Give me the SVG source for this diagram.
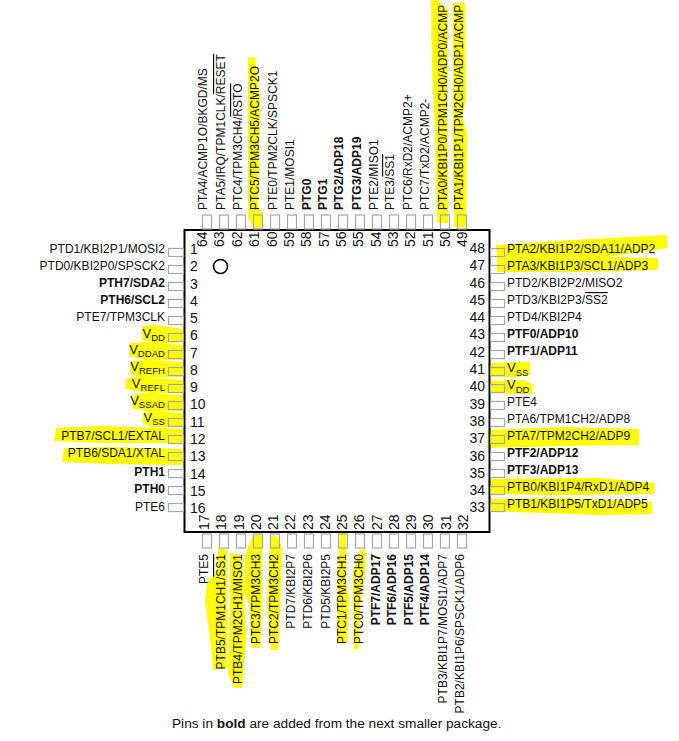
<svg xmlns="http://www.w3.org/2000/svg" width="679" height="741" viewBox="0 0 679 741">
<style>
text{font-family:"Liberation Sans",Arial,sans-serif;font-size:12px;fill:#111}
.b{font-weight:700}
.n{font-size:14px}
.e{text-anchor:end}
.d{font-size:13px}
.s{font-size:9.6px}
.c{font-size:13.67px}
.o{text-decoration:overline}
.box{fill:none;stroke:#a6a6a6;stroke-width:1.2}
.hl{fill:#ffff00;stroke:none}
.pkg{fill:none;stroke:#000;stroke-width:2}
</style>
<rect width="679" height="741" fill="#fff"/>
<g id="highlights">
<path class="hl" d="M248 58L255 57L260 100L258 207L262 213L262 227L253 228L248 217Z"/>
<path class="hl" d="M431 0L437 0L448 10L447 110L448 220L449 223L437 223L435 133L432 67Z"/>
<path class="hl" d="M453 3L465 3L466 100L462 117L467 133L466 227L454 227L453 133Z"/>
<path class="hl" d="M142 326L155 325L183 329L183 342L160 343L142 340Z"/>
<path class="hl" d="M130 343L150 342L183 345L183 360L145 360L129 356Z"/>
<path class="hl" d="M131 361L150 360L183 362L183 377L140 378L130 373Z"/>
<path class="hl" d="M126 378L140 377L183 380L183 393L150 393L125 389Z"/>
<path class="hl" d="M134 394L150 393L183 395L183 411L150 412L132 408Z"/>
<path class="hl" d="M143 413L160 412L183 413L183 427L150 427L142 423Z"/>
<path class="hl" d="M56 428L100 426L183 429L183 443L100 443L54 441Z"/>
<path class="hl" d="M64 448L110 447L183 449L183 465L110 464L62 462Z"/>
<path class="hl" d="M496 245L573 240L667 235L667 248L607 257L497 258Z"/>
<path class="hl" d="M497 258L600 257L658 258L658 270L580 272L497 272Z"/>
<path class="hl" d="M488 363L530 362L530 375L515 377L488 377Z"/>
<path class="hl" d="M490 381L525 380L533 385L532 394L490 393Z"/>
<path class="hl" d="M488 430L560 427L639 429L639 445L560 446L487 448Z"/>
<path class="hl" d="M488 479L600 478L655 483L654 494L560 495L488 494Z"/>
<path class="hl" d="M490 499L560 498L652 502L652 514L600 515L490 511Z"/>
<path class="hl" d="M218 548L227 550L227 668L213 670L210 638L205 602L207 582L217 572Z"/>
<path class="hl" d="M230 553L242 555L246 638L242 688L235 688L228 675L230 605Z"/>
<path class="hl" d="M253 535L262 535L262 600L260 648L252 648L249 605L244 592L245 555Z"/>
<path class="hl" d="M270 535L278 537L282 548L280 605L278 650L271 650L267 605Z"/>
<path class="hl" d="M340 533L346 533L346 582L349 598L347 643L337 643L338 572Z"/>
<path class="hl" d="M360 550L365 549L365 572L360 605L359 648L354 650L353 572Z"/>
</g>
<g id="connectors"></g>
<g id="package">
<rect class="pkg" x="184.5" y="230" width="305" height="302"/>
<circle cx="220.500" cy="266.500" r="7" fill="none" stroke="#000" stroke-width="1.600"/>
</g>
<g id="pin1"><rect class="box" x="168.500" y="248.500" width="15" height="8"/><text class="n" x="190" y="254">1</text><text class="e" x="165" y="253">PTD1/KBI2P1/MOSI2</text></g>
<g id="pin2"><rect class="box" x="168.500" y="265.500" width="15" height="8"/><text class="n" x="190" y="271">2</text><text class="e" x="165" y="270">PTD0/KBI2P0/SPSCK2</text></g>
<g id="pin3"><rect class="box" x="168.500" y="282.500" width="15" height="8"/><text class="n" x="190" y="289">3</text><text class="e b" x="165" y="287">PTH7/SDA2</text></g>
<g id="pin4"><rect class="box" x="168.500" y="299.500" width="15" height="8"/><text class="n" x="190" y="306">4</text><text class="e b" x="165" y="304">PTH6/SCL2</text></g>
<g id="pin5"><rect class="box" x="168.500" y="316.500" width="15" height="8"/><text class="n" x="190" y="323">5</text><text class="e" x="165" y="321">PTE7/TPM3CLK</text></g>
<g id="pin6"><rect class="box" x="168.500" y="333.500" width="15" height="8"/><text class="n" x="190" y="340">6</text><text class="e" x="165" y="337.500"><tspan class="d">V</tspan><tspan class="s" dy="3">DD</tspan></text></g>
<g id="pin7"><rect class="box" x="168.500" y="350.500" width="15" height="8"/><text class="n" x="190" y="358">7</text><text class="e" x="165" y="354"><tspan class="d">V</tspan><tspan class="s" dy="3">DDAD</tspan></text></g>
<g id="pin8"><rect class="box" x="168.500" y="367.500" width="15" height="8"/><text class="n" x="190" y="375">8</text><text class="e" x="165" y="371"><tspan class="d">V</tspan><tspan class="s" dy="3">REFH</tspan></text></g>
<g id="pin9"><rect class="box" x="168.500" y="384.500" width="15" height="8"/><text class="n" x="190" y="392">9</text><text class="e" x="165" y="388"><tspan class="d">V</tspan><tspan class="s" dy="3">REFL</tspan></text></g>
<g id="pin10"><rect class="box" x="168.500" y="401.500" width="15" height="8"/><text class="n" x="190" y="409">10</text><text class="e" x="165" y="404.500"><tspan class="d">V</tspan><tspan class="s" dy="3">SSAD</tspan></text></g>
<g id="pin11"><rect class="box" x="168.500" y="418.500" width="15" height="8"/><text class="n" x="190" y="427">11</text><text class="e" x="165" y="422"><tspan class="d">V</tspan><tspan class="s" dy="3">SS</tspan></text></g>
<g id="pin12"><rect class="box" x="168.500" y="435.500" width="15" height="8"/><text class="n" x="190" y="444">12</text><text class="e" x="165" y="440">PTB7/SCL1/EXTAL</text></g>
<g id="pin13"><rect class="box" x="168.500" y="452.500" width="15" height="8"/><text class="n" x="190" y="461">13</text><text class="e" x="165" y="457">PTB6/SDA1/XTAL</text></g>
<g id="pin14"><rect class="box" x="168.500" y="469.500" width="15" height="8"/><text class="n" x="190" y="479">14</text><text class="e b" x="165" y="476">PTH1</text></g>
<g id="pin15"><rect class="box" x="168.500" y="486.500" width="15" height="8"/><text class="n" x="190" y="496">15</text><text class="e b" x="165" y="493">PTH0</text></g>
<g id="pin16"><rect class="box" x="168.500" y="503.500" width="15" height="8"/><text class="n" x="190" y="513">16</text><text class="e" x="165" y="510.500">PTE6</text></g>
<g id="pin17"><rect class="box" x="202.500" y="534" width="9" height="14"/><text class="n" transform="translate(209 530) rotate(-90)">17</text><text class="e" transform="translate(208 554) rotate(-90)">PTE5</text></g>
<g id="pin18"><rect class="box" x="219.500" y="534" width="9" height="14"/><text class="n" transform="translate(226 530) rotate(-90)">18</text><text class="e" transform="translate(225 554) rotate(-90)">PTB5/TPM1CH1/<tspan class="o">SS1</tspan></text></g>
<g id="pin19"><rect class="box" x="236.500" y="534" width="9" height="14"/><text class="n" transform="translate(244 530) rotate(-90)">19</text><text class="e" transform="translate(242 554) rotate(-90)">PTB4/TPM2CH1/MISO1</text></g>
<g id="pin20"><rect class="box" x="253.500" y="534" width="9" height="14"/><text class="n" transform="translate(261 530) rotate(-90)">20</text><text class="e" transform="translate(260 554) rotate(-90)">PTC3/TPM3CH3</text></g>
<g id="pin21"><rect class="box" x="270.500" y="534" width="9" height="14"/><text class="n" transform="translate(278 530) rotate(-90)">21</text><text class="e" transform="translate(278 554) rotate(-90)">PTC2/TPM3CH2</text></g>
<g id="pin22"><rect class="box" x="287.500" y="534" width="9" height="14"/><text class="n" transform="translate(295 530) rotate(-90)">22</text><text class="e" transform="translate(295 554) rotate(-90)">PTD7/KBI2P7</text></g>
<g id="pin23"><rect class="box" x="304.500" y="534" width="9" height="14"/><text class="n" transform="translate(313 530) rotate(-90)">23</text><text class="e" transform="translate(312 554) rotate(-90)">PTD6/KBI2P6</text></g>
<g id="pin24"><rect class="box" x="321.500" y="534" width="9" height="14"/><text class="n" transform="translate(330 530) rotate(-90)">24</text><text class="e" transform="translate(330 554) rotate(-90)">PTD5/KBI2P5</text></g>
<g id="pin25"><rect class="box" x="338.500" y="534" width="9" height="14"/><text class="n" transform="translate(347 530) rotate(-90)">25</text><text class="e" transform="translate(346 554) rotate(-90)">PTC1/TPM3CH1</text></g>
<g id="pin26"><rect class="box" x="355.500" y="534" width="9" height="14"/><text class="n" transform="translate(364 530) rotate(-90)">26</text><text class="e" transform="translate(363 554) rotate(-90)">PTC0/TPM3CH0</text></g>
<g id="pin27"><rect class="box" x="372.500" y="534" width="9" height="14"/><text class="n" transform="translate(382 530) rotate(-90)">27</text><text class="e b" transform="translate(380 554) rotate(-90)">PTF7/ADP17</text></g>
<g id="pin28"><rect class="box" x="389.500" y="534" width="9" height="14"/><text class="n" transform="translate(399 530) rotate(-90)">28</text><text class="e b" transform="translate(396 554) rotate(-90)">PTF6/ADP16</text></g>
<g id="pin29"><rect class="box" x="406.500" y="534" width="9" height="14"/><text class="n" transform="translate(416 530) rotate(-90)">29</text><text class="e b" transform="translate(413 554) rotate(-90)">PTF5/ADP15</text></g>
<g id="pin30"><rect class="box" x="423.500" y="534" width="9" height="14"/><text class="n" transform="translate(433 530) rotate(-90)">30</text><text class="e b" transform="translate(429 554) rotate(-90)">PTF4/ADP14</text></g>
<g id="pin31"><rect class="box" x="440.500" y="534" width="9" height="14"/><text class="n" transform="translate(451 530) rotate(-90)">31</text><text class="e" transform="translate(447 554) rotate(-90)">PTB3/KBI1P7/MOSI1/ADP7</text></g>
<g id="pin32"><rect class="box" x="457.500" y="534" width="9" height="14"/><text class="n" transform="translate(468 530) rotate(-90)">32</text><text class="e" transform="translate(464 554) rotate(-90)">PTB2/KBI1P6/SPSCK1/ADP6</text></g>
<g id="pin33"><rect class="box" x="490.500" y="503.500" width="14" height="8"/><text class="n e" x="485" y="512">33</text><text x="507" y="508">PTB1/KBI1P5/TxD1/ADP5</text></g>
<g id="pin34"><rect class="box" x="490.500" y="486.500" width="14" height="8"/><text class="n e" x="485" y="495">34</text><text x="507" y="491">PTB0/KBI1P4/RxD1/ADP4</text></g>
<g id="pin35"><rect class="box" x="490.500" y="469.500" width="14" height="8"/><text class="n e" x="485" y="478">35</text><text class="b" x="507" y="474">PTF3/ADP13</text></g>
<g id="pin36"><rect class="box" x="490.500" y="452.500" width="14" height="8"/><text class="n e" x="485" y="461">36</text><text class="b" x="507" y="457">PTF2/ADP12</text></g>
<g id="pin37"><rect class="box" x="490.500" y="435.500" width="14" height="8"/><text class="n e" x="485" y="443">37</text><text x="507" y="440">PTA7/TPM2CH2/ADP9</text></g>
<g id="pin38"><rect class="box" x="490.500" y="418.500" width="14" height="8"/><text class="n e" x="485" y="426">38</text><text x="507" y="423">PTA6/TPM1CH2/ADP8</text></g>
<g id="pin39"><rect class="box" x="490.500" y="401.500" width="14" height="8"/><text class="n e" x="485" y="409">39</text><text x="507" y="406">PTE4</text></g>
<g id="pin40"><rect class="box" x="490.500" y="384.500" width="14" height="8"/><text class="n e" x="485" y="391">40</text><text x="507" y="389"><tspan class="d">V</tspan><tspan class="s" dy="3.500">DD</tspan></text></g>
<g id="pin41"><rect class="box" x="490.500" y="367.500" width="14" height="8"/><text class="n e" x="485" y="374">41</text><text x="507" y="372"><tspan class="d">V</tspan><tspan class="s" dy="3.500">SS</tspan></text></g>
<g id="pin42"><rect class="box" x="490.500" y="350.500" width="14" height="8"/><text class="n e" x="485" y="357">42</text><text class="b" x="507" y="355">PTF1/ADP11</text></g>
<g id="pin43"><rect class="box" x="490.500" y="333.500" width="14" height="8"/><text class="n e" x="485" y="339">43</text><text class="b" x="507" y="338">PTF0/ADP10</text></g>
<g id="pin44"><rect class="box" x="490.500" y="316.500" width="14" height="8"/><text class="n e" x="485" y="322">44</text><text x="507" y="321">PTD4/KBI2P4</text></g>
<g id="pin45"><rect class="box" x="490.500" y="299.500" width="14" height="8"/><text class="n e" x="485" y="305">45</text><text x="507" y="304">PTD3/KBI2P3/<tspan class="o">SS2</tspan></text></g>
<g id="pin46"><rect class="box" x="490.500" y="282.500" width="14" height="8"/><text class="n e" x="485" y="288">46</text><text x="507" y="287">PTD2/KBI2P2/MISO2</text></g>
<g id="pin47"><rect class="box" x="490.500" y="265.500" width="14" height="8"/><text class="n e" x="485" y="270">47</text><text x="507" y="270">PTA3/KBI1P3/SCL1/ADP3</text></g>
<g id="pin48"><rect class="box" x="490.500" y="248.500" width="14" height="8"/><text class="n e" x="485" y="253">48</text><text x="507" y="253">PTA2/KBI1P2/SDA11/ADP2</text></g>
<g id="pin49"><rect class="box" x="457.500" y="215" width="9" height="14"/><text class="n" transform="translate(467 247) rotate(-90)">49</text><text transform="translate(463 210) rotate(-90)">PTA1/KBI1P1/TPM2CH0/ADP1/ACMP</text></g>
<g id="pin50"><rect class="box" x="440.500" y="215" width="9" height="14"/><text class="n" transform="translate(450 247) rotate(-90)">50</text><text transform="translate(447 210) rotate(-90)">PTA0/KBI1P0/TPM1CH0/ADP0/ACMP</text></g>
<g id="pin51"><rect class="box" x="423.500" y="215" width="9" height="14"/><text class="n" transform="translate(433 247) rotate(-90)">51</text><text transform="translate(429 210) rotate(-90)">PTC7/TxD2/ACMP2-</text></g>
<g id="pin52"><rect class="box" x="406.500" y="215" width="9" height="14"/><text class="n" transform="translate(415 247) rotate(-90)">52</text><text transform="translate(412 210) rotate(-90)">PTC6/RxD2/ACMP2+</text></g>
<g id="pin53"><rect class="box" x="389.500" y="215" width="9" height="14"/><text class="n" transform="translate(398 247) rotate(-90)">53</text><text transform="translate(394 210) rotate(-90)">PTE3/<tspan class="o">SS1</tspan></text></g>
<g id="pin54"><rect class="box" x="372.500" y="215" width="9" height="14"/><text class="n" transform="translate(381 247) rotate(-90)">54</text><text transform="translate(378 210) rotate(-90)">PTE2/MISO1</text></g>
<g id="pin55"><rect class="box" x="355.500" y="215" width="9" height="14"/><text class="n" transform="translate(363 247) rotate(-90)">55</text><text class="b" transform="translate(361 210) rotate(-90)">PTG3/ADP19</text></g>
<g id="pin56"><rect class="box" x="338.500" y="215" width="9" height="14"/><text class="n" transform="translate(346 247) rotate(-90)">56</text><text class="b" transform="translate(343 210) rotate(-90)">PTG2/ADP18</text></g>
<g id="pin57"><rect class="box" x="321.500" y="215" width="9" height="14"/><text class="n" transform="translate(329 247) rotate(-90)">57</text><text class="b" transform="translate(327 210) rotate(-90)">PTG1</text></g>
<g id="pin58"><rect class="box" x="304.500" y="215" width="9" height="14"/><text class="n" transform="translate(311 247) rotate(-90)">58</text><text class="b" transform="translate(311 210) rotate(-90)">PTG0</text></g>
<g id="pin59"><rect class="box" x="287.500" y="215" width="9" height="14"/><text class="n" transform="translate(294 247) rotate(-90)">59</text><text transform="translate(294 210) rotate(-90)">PTE1/MOSI1</text></g>
<g id="pin60"><rect class="box" x="270.500" y="215" width="9" height="14"/><text class="n" transform="translate(277 247) rotate(-90)">60</text><text transform="translate(277 210) rotate(-90)">PTE0/TPM2CLK/SPSCK1</text></g>
<g id="pin61"><rect class="box" x="253.500" y="215" width="9" height="14"/><text class="n" transform="translate(259 247) rotate(-90)">61</text><text transform="translate(259 210) rotate(-90)">PTC5/TPM3CH5/ACMP2O</text></g>
<g id="pin62"><rect class="box" x="236.500" y="215" width="9" height="14"/><text class="n" transform="translate(242 247) rotate(-90)">62</text><text transform="translate(242 210) rotate(-90)">PTC4/TPM3CH4/<tspan class="o">RSTO</tspan></text></g>
<g id="pin63"><rect class="box" x="219.500" y="215" width="9" height="14"/><text class="n" transform="translate(224 247) rotate(-90)">63</text><text transform="translate(225 210) rotate(-90)">PTA5/IRQ/TPM1CLK/<tspan class="o">RESET</tspan></text></g>
<g id="pin64"><rect class="box" x="202.500" y="215" width="9" height="14"/><text class="n" transform="translate(207 247) rotate(-90)">64</text><text transform="translate(207 210) rotate(-90)">PTA4/ACMP1O/BKGD/MS</text></g>
<g id="caption"><text class="c" x="172" y="728">Pins in <tspan class="b">bold</tspan> are added from the next smaller package.</text></g>
</svg>
